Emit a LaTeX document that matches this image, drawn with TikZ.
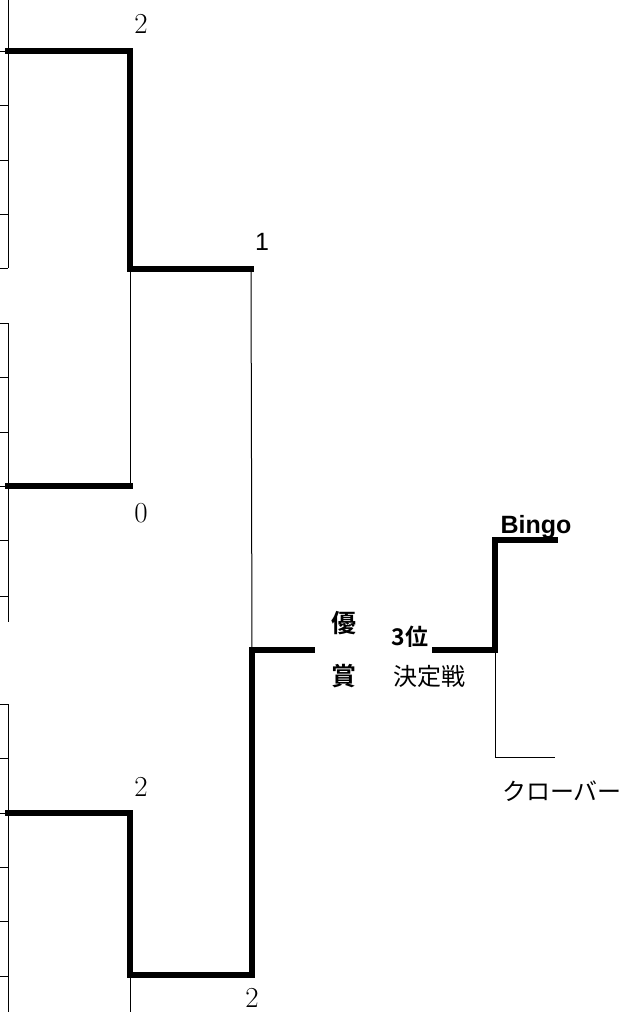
\documentclass[tikz,border=0pt]{standalone}
\usepackage{fontspec}
\newfontfamily\jp{Noto Sans CJK JP}[BoldFont={Noto Sans CJK JP Bold}]
\newfontfamily\lsans{Liberation Sans}
\begin{document}
\begin{tikzpicture}[x=1pt,y=-1pt,
  thick line/.style={line width=5.5pt,line cap=rect,line join=miter},
  thin line/.style={line width=1pt},
  grid line/.style={line width=1pt},
  score/.style={font=\fontsize{29}{31}\selectfont,inner sep=0pt},
  jlabel/.style={font=\fontsize{24}{26}\selectfont\jp,inner sep=0pt},
  jbold/.style={font=\fontsize{25}{27}\selectfont\jp\bfseries,inner sep=0pt}]
\useasboundingbox (0,0) rectangle (629,1012);
% left grid
\draw[grid line] (8,0) -- (8,268);
\foreach \y in {51,105,160,214,268} \draw[grid line] (0,\y) -- (8,\y);
\draw[grid line] (8,323) -- (8,622);
\foreach \y in {323,377,432,486,540,596} \draw[grid line] (0,\y) -- (8,\y);
\draw[grid line] (8,704) -- (8,1012);
\foreach \y in {704,758,813,867,921,976} \draw[grid line] (0,\y) -- (8,\y);
% coordinates
\coordinate (a1) at (8,51);
\coordinate (a2) at (130,51);
\coordinate (a3) at (130,269);
\coordinate (a4) at (251,269);
\coordinate (b1) at (8,486);
\coordinate (b2) at (130,486);
\coordinate (c1) at (8,813);
\coordinate (c2) at (130,813);
\coordinate (c3) at (130,975);
\coordinate (c4) at (252,975);
\coordinate (c5) at (252,650);
\coordinate (c6) at (312,650);
\coordinate (c7) at (130,1012);
\coordinate (d1) at (435,650);
\coordinate (d2) at (495,650);
\coordinate (d3) at (495,540);
\coordinate (d4) at (555,540);
\coordinate (e1) at (495,757);
\coordinate (e2) at (555,757);
% bracket lines
\draw[thin line] (a3) -- (b2);
\draw[thin line] (a4) -- (c5);
\draw[thin line] (c3) -- (c7);
\draw[thin line] (d2) -- (e1) -- (e2);
\draw[thick line] (a1) -- (a2) -- (a3) -- (a4);
\draw[thick line] (b1) -- (b2);
\draw[thick line] (c1) -- (c2) -- (c3) -- (c4) -- (c5) -- (c6);
\draw[thick line] (d1) -- (d2) -- (d3) -- (d4);
% labels
\node[score] (s1) at (141,24) {2};
\node[inner sep=0pt,font=\fontsize{25}{27}\selectfont\lsans] (s2) at (262,242) {1};
\node[score] (s3) at (141,513) {0};
\node[score] (s4) at (141,787) {2};
\node[score] (s5) at (252,998) {2};
\node[jbold] (yu) at (344,623) {優};
\node[jbold] (sho) at (344,676) {賞};
\node[jbold,font=\fontsize{23}{25}\selectfont\jp\bfseries] (third) at (410,637) {3位};
\node[jlabel] (kettei) at (429,676) {決定戦};
\node[inner sep=0pt,font=\fontsize{25}{27}\selectfont\lsans\bfseries] (bingo) at (536,527) {Bingo};
\node[jlabel] (clover) at (562,791) {クローバー};
\end{tikzpicture}
\end{document}
